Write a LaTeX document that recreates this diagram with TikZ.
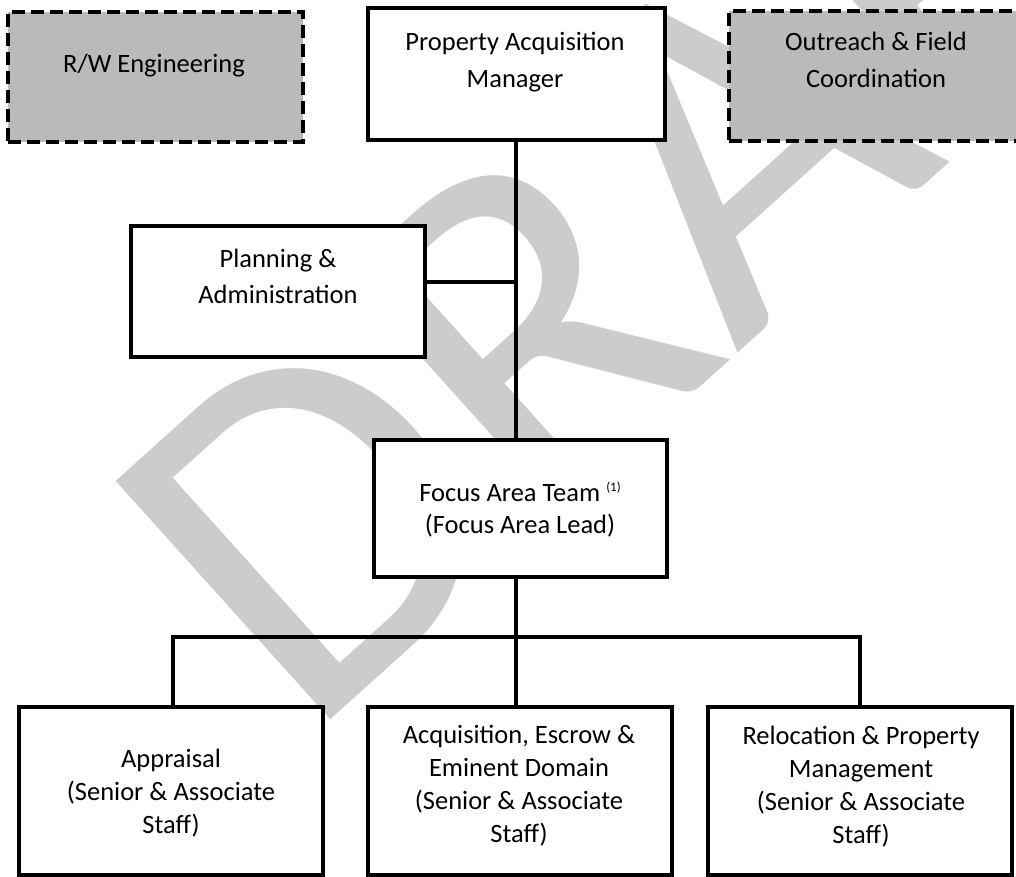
\documentclass[tikz,border=0pt]{standalone}
\usepackage{fontspec}
\setmainfont{Carlito}
\begin{document}
\begin{tikzpicture}[x=1pt,y=-1pt,
  box/.style={draw=black, line width=4pt, fill=white, rectangle, inner sep=0pt},
  dbox/.style={draw=black, line width=4pt, fill=black!27, rectangle, inner sep=0pt,
    dash pattern=on 13pt off 6pt},
  topbox/.style={minimum width=295pt, minimum height=130pt},
  lowbox/.style={minimum width=304pt, minimum height=168pt},
  lbl/.style={anchor=base, align=center, inner sep=0pt, font=\fontsize{26.5}{37}\selectfont},
  lbltight/.style={anchor=base, align=center, inner sep=0pt, font=\fontsize{26.5}{33}\selectfont},
  conn/.style={draw=black, line width=4pt},
  wm/.style={text=black!20, rotate=42, inner sep=0pt, font=\fontsize{500}{500}\selectfont}]
\useasboundingbox (0,0) rectangle (1016,876);
% watermark
\node[wm] (draft) at (697,174) {DRAFT};
% boxes
\node[dbox, topbox] (rw) at (155.5,77) {};
\node[box, minimum width=297pt, minimum height=132pt] (pam) at (516,74) {};
\node[dbox, topbox] (out) at (876.5,76) {};
\node[box, minimum width=294pt, minimum height=131pt] (plan) at (278,291.5) {};
\node[box, minimum width=293pt, minimum height=137pt] (focus) at (520.5,508.5) {};
\node[box, lowbox] (appr) at (170.5,791) {};
\node[box, lowbox] (acq) at (519.5,791) {};
\node[box, lowbox] (rel) at (859.5,791) {};
% texts (base anchor = baseline of the last line)
\node[lbl] (trw) at (154,72) {R/W Engineering};
\node[lbl] (tpam) at (515,87) {Property Acquisition\\Manager};
\node[lbl] (tout) at (876,87) {Outreach \& Field\\Coordination};
\node[lbl, font=\fontsize{26.5}{36}\selectfont] (tplan) at (278,303) {Planning \&\\Administration};
\node[lbltight, font=\fontsize{26.5}{32}\selectfont] (tfocus) at (520,533) {Focus Area Team \raisebox{10pt}{\fontsize{13}{13}\selectfont(1)}\\(Focus Area Lead)};
\node[lbltight] (tappr) at (171,833) {Appraisal\\(Senior \& Associate\\Staff)};
\node[lbltight] (tacq) at (519,842) {Acquisition, Escrow \&\\Eminent Domain\\(Senior \& Associate\\Staff)};
\node[lbltight] (trel) at (861,843) {Relocation \& Property\\Management\\(Senior \& Associate\\Staff)};
% connectors
\coordinate (pj) at (516,282);
\coordinate (bm) at (516,637);
\coordinate (bl) at (173,637);
\coordinate (br) at (860,637);
\draw[conn] (pam.south) -- (pam.south |- focus.north);
\draw[conn] (plan.east |- pj) -- (pj);
\draw[conn] (bm |- focus.south) -- (bm |- acq.north);
\draw[conn] (bl |- appr.north) -- (bl) -- (br) -- (br |- rel.north);
\end{tikzpicture}
\end{document}
